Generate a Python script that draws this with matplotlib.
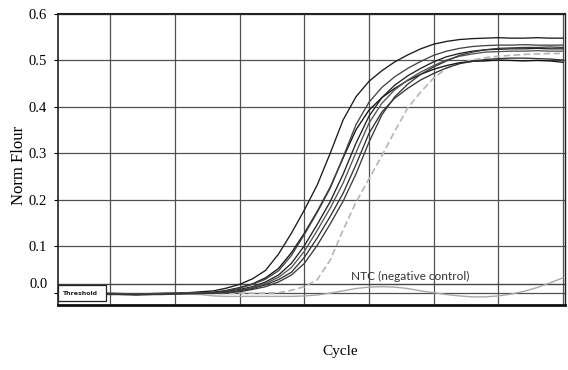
import matplotlib
matplotlib.use("Agg")
import matplotlib.pyplot as plt
from matplotlib.patches import Rectangle
from matplotlib.transforms import blended_transform_factory

cycles = list(range(1, 41))

base12 = [0.001, 0.000, -0.001, -0.002, -0.002, -0.003, -0.003, -0.003, -0.002, -0.001, 0.000, 0.002]

curve_a = base12 + [0.004, 0.010, 0.018, 0.030, 0.048, 0.083, 0.128, 0.178, 0.232, 0.300,
                    0.372, 0.422, 0.455, 0.478, 0.497, 0.512, 0.525, 0.535, 0.541, 0.545,
                    0.547, 0.548, 0.549, 0.548, 0.548, 0.549, 0.548, 0.548]
curve_b = [0.000, -0.001, -0.002, -0.002, -0.003, -0.003, -0.004, -0.003, -0.003, -0.002, -0.001, 0.000,
           0.001, 0.005, 0.011, 0.019, 0.032, 0.052, 0.086, 0.128, 0.175, 0.227,
           0.290, 0.351, 0.393, 0.420, 0.440, 0.457, 0.470, 0.481, 0.489, 0.495,
           0.498, 0.499, 0.501, 0.500, 0.499, 0.500, 0.499, 0.496]
curve_c = [0.002, 0.001, 0.000, -0.001, -0.001, -0.002, -0.002, -0.002, -0.001, -0.001, 0.000, 0.000,
           0.000, 0.004, 0.010, 0.018, 0.029, 0.047, 0.080, 0.125, 0.173, 0.225,
           0.292, 0.362, 0.410, 0.442, 0.465, 0.483, 0.498, 0.511, 0.520, 0.526,
           0.530, 0.532, 0.533, 0.533, 0.534, 0.533, 0.533, 0.533]
curve_d = [-0.001, -0.001, -0.002, -0.003, -0.003, -0.004, -0.004, -0.004, -0.003, -0.002, -0.002, -0.001,
           0.000, 0.002, 0.007, 0.013, 0.023, 0.038, 0.063, 0.101, 0.147, 0.196,
           0.255, 0.322, 0.380, 0.420, 0.447, 0.467, 0.483, 0.497, 0.508, 0.515,
           0.520, 0.523, 0.524, 0.525, 0.525, 0.526, 0.525, 0.525]
curve_e = [0.001, 0.001, 0.000, -0.001, -0.002, -0.002, -0.003, -0.002, -0.002, -0.001, -0.001, 0.000,
           0.000, 0.001, 0.005, 0.011, 0.020, 0.033, 0.054, 0.089, 0.134, 0.182,
           0.236, 0.302, 0.365, 0.408, 0.437, 0.458, 0.475, 0.489, 0.501, 0.509,
           0.514, 0.518, 0.519, 0.520, 0.520, 0.521, 0.520, 0.520]
curve_f = [-0.002, -0.002, -0.003, -0.003, -0.004, -0.004, -0.005, -0.004, -0.004, -0.003, -0.002, -0.002,
           -0.001, 0.000, 0.004, 0.009, 0.017, 0.028, 0.044, 0.076, 0.118, 0.164,
           0.214, 0.276, 0.343, 0.389, 0.419, 0.440, 0.458, 0.472, 0.484, 0.493,
           0.498, 0.502, 0.504, 0.505, 0.505, 0.504, 0.503, 0.501]
curve_g = [0.000, 0.000, -0.001, -0.002, -0.002, -0.003, -0.003, -0.003, -0.003, -0.002, -0.001, -0.001,
           0.000, 0.000, 0.002, 0.007, 0.013, 0.023, 0.038, 0.063, 0.102, 0.148,
           0.197, 0.256, 0.324, 0.383, 0.422, 0.449, 0.470, 0.486, 0.499, 0.511,
           0.518, 0.523, 0.526, 0.527, 0.528, 0.528, 0.529, 0.528]
curve_late = [0.000, -0.001, -0.001, -0.002, -0.002, -0.002, -0.003, -0.003, -0.003, -0.003, -0.002, -0.002,
              -0.002, -0.002, -0.001, -0.001, -0.001, 0.000, 0.005, 0.013, 0.028, 0.070,
              0.135, 0.195, 0.245, 0.295, 0.348, 0.398, 0.432, 0.462, 0.483, 0.494,
              0.501, 0.506, 0.509, 0.511, 0.513, 0.514, 0.515, 0.515]
ntc = [0.000, 0.000, -0.001, -0.001, -0.002, -0.002, -0.002, -0.002, -0.002, -0.002, -0.003, -0.004,
       -0.007, -0.008, -0.008, -0.008, -0.008, -0.008, -0.008, -0.007, -0.005, -0.001,
       0.004, 0.009, 0.012, 0.013, 0.012, 0.009, 0.004, 0.000, -0.004, -0.007,
       -0.009, -0.009, -0.007, -0.003, 0.003, 0.011, 0.021, 0.032]

black_curves = [curve_a, curve_b, curve_c, curve_d, curve_e, curve_f, curve_g]
black_colors = ["#1a1a1a", "#111111", "#444444", "#222222", "#555555", "#333333", "#3a3a3a"]

y_ticks = [0.0, 0.1, 0.2, 0.3, 0.4, 0.5, 0.6]
y_labels = ["", "0.1", "0.2", "0.3", "0.4", "0.5", "0.6"]
x_grid = [5, 10, 15, 20, 25, 30, 35, 40]

serif = ["Liberation Serif", "DejaVu Serif"]

fig = plt.figure(figsize=(5.68, 3.70), dpi=100)
ax = fig.add_axes([58 / 568, 1 - 305 / 370, (565 - 58) / 568, (305 - 14) / 370])

ax.set_xlim(0.95, 40.16)
ax.set_ylim(-0.0265, 0.6)

ax.set_xticks(x_grid)
ax.set_xticklabels([])
ax.tick_params(axis="x", length=0)
ax.set_yticks(y_ticks)
ax.set_yticklabels(y_labels, fontfamily=serif, fontsize=10.5)
ax.tick_params(axis="y", direction="out", length=3, width=0.8, pad=5)
ax.grid(True, color="#505050", linewidth=0.9)
ax.set_axisbelow(True)

# reference line drawn by instrument software just above zero
ax.axhline(0.0177, color="#444444", linewidth=1.0, zorder=1)

ax.plot(cycles, ntc, color="#a8a8a8", linewidth=1.0, zorder=2)
ax.plot(cycles, curve_late, color="#b5b5b5", linewidth=1.2, linestyle=(0, (4, 2)), zorder=2)
for vals, col in zip(black_curves, black_colors):
    ax.plot(cycles, vals, color=col, linewidth=0.95, zorder=3)

for side in ["top", "right", "left", "bottom"]:
    ax.spines[side].set_color("#222222")
ax.spines["top"].set_linewidth(1.5)
ax.spines["right"].set_linewidth(1.0)
ax.spines["left"].set_linewidth(1.2)
ax.spines["bottom"].set_linewidth(2.0)
ax.spines["bottom"].set_color("#111111")

# "0.0" label sits at the software's zero line
trans = blended_transform_factory(ax.transAxes, ax.transData)
ax.text(-0.0197, 0.0177, "0.0", transform=trans, ha="right", va="center",
        fontfamily=serif, fontsize=10.5)

# Threshold box
ax.add_patch(Rectangle((0.0, 0.0148), 0.094, 0.054, transform=ax.transAxes,
                       facecolor="white", edgecolor="#222222", linewidth=0.9,
                       zorder=6, clip_on=False))
ax.text(0.008, 0.041, "Threshold", transform=ax.transAxes, ha="left", va="center",
        fontsize=4.5, fontweight="bold", color="#222222", zorder=7)

ax.text(28.2, 0.034, "NTC (negative control)", ha="center", va="center",
        fontfamily=["Lato", "DejaVu Sans"], fontsize=8.6, color="#333333", zorder=5)

fig.text(19 / 568, 1 - 165 / 370, "Norm Flour", rotation=90, ha="center", va="center",
         fontfamily=serif, fontsize=12)
fig.text(340 / 568, 1 - 352 / 370, "Cycle", ha="center", va="center",
         fontfamily=serif, fontsize=11)

fig.savefig("out.png", dpi=100)
